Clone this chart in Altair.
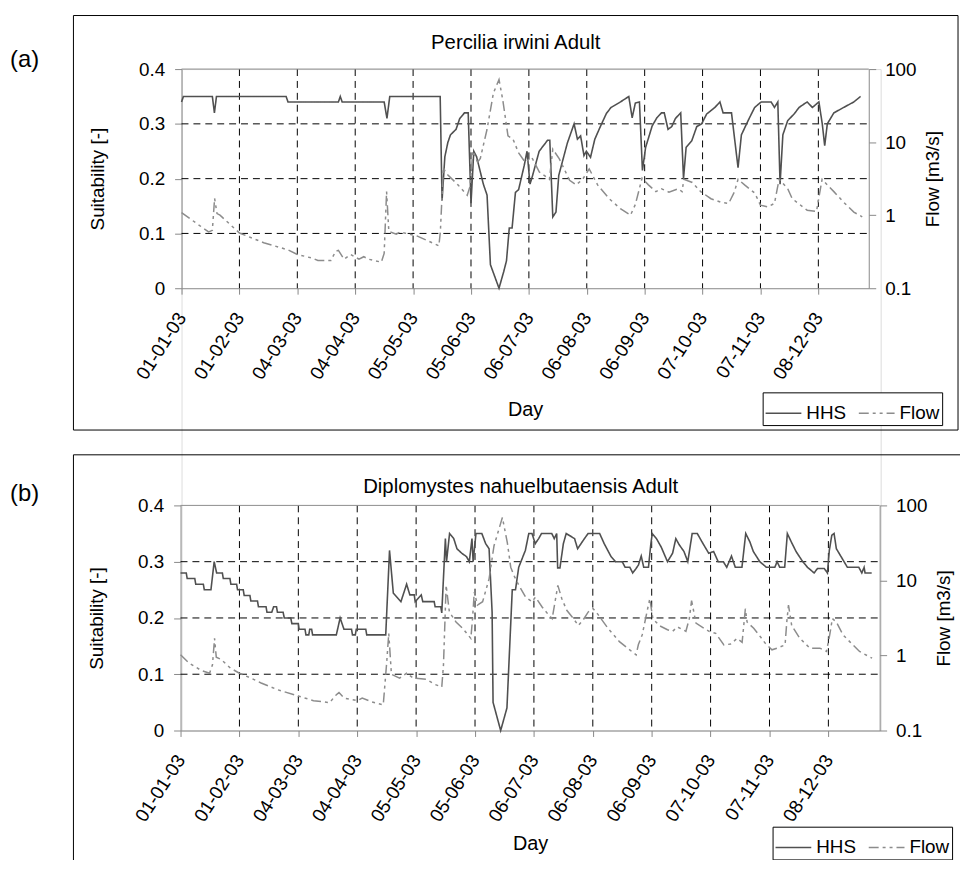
import altair as alt
import pandas as pd

FONT = "Liberation Sans"

TICK_DAYS = [0, 31, 62, 93, 124, 155, 186, 217, 248, 279, 310, 341]
TICK_LABELS = ["01-01-03", "01-02-03", "04-03-03", "04-04-03", "05-05-03", "05-06-03",
               "06-07-03", "06-08-03", "06-09-03", "07-10-03", "07-11-03", "08-12-03"]
SUIT_TICKS = [0, 0.1, 0.2, 0.3, 0.4]
FLOW_TICKS = [0.1, 1, 10, 100]
SERIES = ["HHS", "Flow"]

A_TITLE = "Percilia irwini Adult"
B_TITLE = "Diplomystes nahuelbutaensis Adult"

# ---- panel (a): HHS ----
A_HHS_DAY = [0, 1, 16.5, 17.6, 18.7, 56, 57, 84, 85, 86, 108.5, 110, 111.5, 138.5, 139.5, 141, 142.6, 144,
             147, 149, 151.5, 153.5, 155, 156.5, 158, 161.6, 163.6, 165.4, 170, 172.5, 174, 175.5, 177,
             178.8, 180.5, 183.5, 185, 186.6, 188, 191.5, 196, 197.2, 198.8, 200.5, 202, 206.6, 210.2,
             212, 213.7, 215.5, 216.8, 219, 221.3, 224, 227.5, 230, 235, 239.5, 241.3, 243, 245.2, 246.8,
             248.5, 252, 254.5, 257, 258.5, 260.5, 262.5, 264.5, 267.3, 268.8, 270.2, 273.2, 275.9, 278.5,
             281.2, 285.6, 288.3, 290, 294.5, 298, 299.8, 303.4, 306.9, 310.4, 315.7, 317.5, 319.3, 320.5,
             322, 324.6, 328, 330.7, 335, 337.8, 341.3, 343.1, 344.4, 345.8, 349.3, 354.6, 360, 363.6]
A_HHS_VAL = [0.34, 0.35, 0.35, 0.32, 0.35, 0.35, 0.34, 0.34, 0.35, 0.34, 0.34, 0.31, 0.35, 0.35, 0.16, 0.24,
             0.266, 0.28, 0.29, 0.31, 0.32, 0.32, 0.155, 0.25, 0.24, 0.19, 0.17, 0.043, 0.0, 0.03, 0.05,
             0.11, 0.11, 0.175, 0.18, 0.224, 0.25, 0.19, 0.206, 0.25, 0.27, 0.27, 0.13, 0.139, 0.206,
             0.265, 0.30, 0.272, 0.278, 0.242, 0.25, 0.239, 0.272, 0.293, 0.319, 0.33, 0.34, 0.35, 0.311,
             0.338, 0.34, 0.215, 0.257, 0.296, 0.311, 0.32, 0.32, 0.29, 0.295, 0.31, 0.32, 0.20, 0.257,
             0.269, 0.295, 0.30, 0.318, 0.33, 0.34, 0.32, 0.32, 0.22, 0.28, 0.306, 0.33, 0.34, 0.34, 0.33,
             0.34, 0.19, 0.28, 0.306, 0.318, 0.33, 0.34, 0.33, 0.34, 0.30, 0.26, 0.30, 0.32, 0.33, 0.34, 0.35]

# ---- panel (a): Flow ----
A_FLOW_DAY = [0, 14.5, 16.5, 17.7, 19, 20.6, 31, 44, 57, 62, 70, 73, 80, 82.5, 84, 87, 90.6, 95, 97.6, 100,
              107, 108.5, 109.8, 111, 115, 117, 126, 136, 137.8, 138.6, 140.2, 141.5, 148, 153, 154.5, 156,
              158.5, 160, 163.6, 167, 170, 172, 174.8, 177.5, 180.4, 184, 187.5, 191.6, 197, 198.8, 202.3,
              207.8, 211.3, 214.8, 218.3, 222.8, 229, 235, 240.4, 243, 246.6, 250, 254, 257, 261, 266, 268,
              269, 273.5, 278, 283.5, 289, 293, 296, 298, 301.5, 307, 310, 314, 317.5, 320, 324.6, 327, 335,
              340, 343, 345.8, 349.3, 354.6, 360, 364.5]
A_FLOW_VAL = [1.08, 0.59, 0.62, 1.7, 1.05, 1.0, 0.57, 0.42, 0.335, 0.29, 0.258, 0.24, 0.24, 0.32, 0.33, 0.25,
              0.29, 0.25, 0.27, 0.25, 0.227, 0.3, 2.1, 0.6, 0.55, 0.59, 0.52, 0.4, 0.38, 0.6, 4.5, 3.8, 2.6,
              1.87, 2.5, 7.6, 5.3, 6.0, 15, 47, 72, 38, 12.2, 11, 7.2, 5.3, 6.2, 3.9, 3.1, 8.0, 5.9, 3.0,
              2.6, 3.1, 4.3, 2.6, 1.68, 1.23, 1.0, 1.4, 3.2, 2.6, 2.1, 2.3, 2.07, 2.3, 2.1, 3.1, 2.8, 2.1,
              1.68, 1.5, 1.45, 2.07, 3.1, 2.6, 2.0, 1.37, 1.3, 1.45, 3.1, 2.3, 1.68, 1.17, 1.12, 3.1, 2.6,
              2.1, 1.5, 1.1, 0.95]

# ---- panel (b): HHS ----
B_HHS_DAY = [0, 3, 3.5, 7.5, 8, 12, 12.5, 16, 17.7, 19, 22, 22.5, 26, 26.5, 29.5, 30, 33, 33.5, 36.5, 37,
             40.5, 41, 45, 45.5, 48, 49, 50.5, 51, 54, 54.6, 58, 58.6, 62, 62.4, 65.5, 66, 67.5, 68, 69,
             69.5, 82, 84, 86, 90, 90.5, 92, 92.5, 97.5, 98, 108, 110, 112, 116, 119, 120.7, 123, 123.5,
             126.7, 127.5, 133.5, 134, 137, 137.5, 139.4, 140, 141.6, 143.8, 145.5, 148, 150.5, 152, 153.4,
             154, 155.5, 158.6, 160.6, 162.4, 164, 164.5, 168.5, 171.8, 174.6, 176.3, 178, 181.5, 183.3,
             185, 186.7, 188.5, 190, 195.4, 196.7, 198, 198.5, 199.7, 201.5, 203, 207.4, 209, 210.8, 212.6,
             214.5, 220.6, 223, 226.6, 229, 232.5, 234, 236.5, 238, 239.8, 241, 242.5, 243.8, 246.3, 247.5,
             248.3, 250.5, 253, 256.3, 259, 260.7, 262.5, 265, 267, 269.3, 272, 274.5, 278, 280.6, 283,
             285.7, 287.5, 290, 292, 295.5, 297.5, 299.7, 301.5, 304.9, 308.4, 312.8, 314, 315.4, 318,
             319.4, 321.5, 324, 327.5, 330, 333.5, 335.3, 338.8, 340.5, 341.5, 342.8, 344, 345.2, 347.5,
             351, 357, 358.6, 359.8, 360.3, 363.8]
B_HHS_VAL = [0.28, 0.28, 0.27, 0.27, 0.26, 0.26, 0.25, 0.25, 0.30, 0.28, 0.28, 0.27, 0.27, 0.26, 0.26, 0.25,
             0.25, 0.24, 0.24, 0.23, 0.23, 0.22, 0.22, 0.21, 0.21, 0.22, 0.22, 0.21, 0.21, 0.20, 0.20, 0.19,
             0.19, 0.18, 0.18, 0.17, 0.17, 0.18, 0.18, 0.17, 0.17, 0.20, 0.18, 0.18, 0.17, 0.17, 0.18, 0.18,
             0.17, 0.17, 0.32, 0.244, 0.229, 0.26, 0.241, 0.241, 0.229, 0.241, 0.229, 0.229, 0.22, 0.22,
             0.209, 0.341, 0.30, 0.35, 0.341, 0.323, 0.315, 0.309, 0.30, 0.341, 0.30, 0.35, 0.35, 0.332,
             0.323, 0.21, 0.05, 0.0, 0.04, 0.25, 0.25, 0.29, 0.32, 0.35, 0.35, 0.332, 0.341, 0.35, 0.35,
             0.341, 0.35, 0.289, 0.289, 0.332, 0.35, 0.341, 0.323, 0.332, 0.341, 0.35, 0.35, 0.332, 0.309,
             0.30, 0.30, 0.29, 0.29, 0.28, 0.288, 0.294, 0.31, 0.29, 0.29, 0.33, 0.35, 0.341, 0.326, 0.30,
             0.315, 0.341, 0.33, 0.318, 0.30, 0.35, 0.35, 0.335, 0.315, 0.318, 0.30, 0.30, 0.29, 0.31, 0.29,
             0.29, 0.35, 0.335, 0.318, 0.30, 0.29, 0.29, 0.30, 0.29, 0.29, 0.35, 0.335, 0.318, 0.30, 0.29,
             0.28, 0.288, 0.288, 0.28, 0.32, 0.347, 0.35, 0.323, 0.31, 0.29, 0.29, 0.28, 0.29, 0.28, 0.28]

# ---- panel (b): Flow ----
B_FLOW_DAY = [0, 4.5, 11, 15.3, 16.8, 17.9, 18.8, 21.5, 26.2, 31, 37, 42.4, 51, 61.5, 70, 78.4, 82, 83.4,
              86.2, 93, 95.6, 100.8, 106.7, 108.5, 109.6, 111, 115.3, 119, 122.5, 129.4, 134, 137.5, 138.4,
              139.8, 141.5, 145, 148.5, 152.8, 153.7, 154.6, 156.3, 159, 162.4, 165, 169.4, 172, 173.8,
              175.5, 178.1, 181.6, 185, 186.8, 190.4, 193.8, 195.6, 198.6, 200.7, 203.3, 206.8, 209.4, 212,
              214.6, 217.2, 219.8, 225, 231, 235.3, 239.8, 241, 243, 245.5, 247, 248.6, 252, 256.3, 259,
              261.6, 266, 267.8, 269, 271.3, 275.6, 278.2, 281.7, 286, 289.5, 293, 295.6, 297.3, 298.2,
              301.7, 305.2, 307.8, 311.3, 313.9, 318.2, 319.1, 320, 321.7, 326, 331.3, 336.5, 340, 341.7,
              343.1, 345.2, 348.7, 352.2, 357.4, 364]
B_FLOW_VAL = [1.02, 0.79, 0.63, 0.58, 0.75, 1.69, 0.95, 0.88, 0.68, 0.58, 0.5, 0.43, 0.35, 0.29, 0.25, 0.235,
              0.30, 0.32, 0.27, 0.25, 0.27, 0.24, 0.22, 0.8, 1.97, 0.56, 0.50, 0.58, 0.50, 0.48, 0.41, 0.38,
              0.75, 8.6, 3.8, 2.8, 2.3, 1.69, 3.1, 7.0, 4.7, 5.2, 10.5, 29, 69, 32, 15, 11.6, 8.6, 6.0, 5.2,
              6.0, 4.4, 3.45, 3.1, 8.6, 5.7, 4.0, 3.1, 2.5, 3.0, 3.8, 4.2, 3.5, 2.3, 1.53, 1.25, 1.02, 1.4,
              1.88, 3.8, 5.7, 3.1, 2.5, 2.2, 2.1, 2.4, 2.1, 3.1, 5.4, 2.7, 2.3, 2.1, 1.97, 1.38, 1.42, 1.69,
              1.5, 4.2, 2.8, 2.3, 1.78, 1.45, 1.19, 1.25, 1.38, 2.8, 4.7, 2.5, 1.69, 1.25, 1.25, 1.13, 1.88,
              3.1, 2.8, 1.88, 1.53, 1.13, 0.92]

HHS_COLOR = "#505050"
FLOW_COLOR = "#8c8c8c"
GRID_DASH = [7, 5]
FLOW_DASH = [10, 4, 3, 4, 3, 4]

# overall drawing area (one view holding both panels, each with its own scales)
W, H = 705, 667


def panel(tag, title, title_xy, hhs_day, hhs_val, flow_day, flow_val,
          x_rng, y_rng, frame, tag_xy, legend_xy, day_pad):
    x0, x1 = x_rng
    yt, yb = y_rng
    hdf = pd.DataFrame({"day": hhs_day, "value": hhs_val, "series": "HHS"})
    fdf = pd.DataFrame({"day": flow_day, "value": flow_val, "series": "Flow"})
    one = pd.DataFrame({"k": [0]})

    xs = alt.Scale(domain=[0, 368], range=[x0, x1], nice=False, zero=False)
    ys = alt.Scale(domain=[0, 0.4], range=[yb, yt], nice=False, zero=False)
    fs = alt.Scale(type="log", domain=[0.1, 100], range=[yb, yt], nice=False)

    label_expr = "[" + ",".join("'%s'" % s for s in TICK_LABELS) + "][indexof([" + \
        ",".join(str(d) for d in TICK_DAYS) + "], datum.value)]"
    xaxis = alt.Axis(values=TICK_DAYS, labelExpr=label_expr, labelAngle=303, labelAlign="right",
                     labelBaseline="middle", labelFontSize=19, labelPadding=20, tickSize=6,
                     grid=False, orient="bottom", offset=yb - H,
                     title="Day", titleFontSize=20, titleFontWeight="normal", titlePadding=day_pad,
                     labelOverlap=False)
    yaxis_l = alt.Axis(values=SUIT_TICKS, format=".1~f", orient="left", offset=-x0, labelFontSize=19,
                       labelPadding=10, tickSize=7, grid=False,
                       title="Suitability [-]", titleFontSize=19, titleFontWeight="normal",
                       titlePadding=31)
    yaxis_r = alt.Axis(values=FLOW_TICKS, format="~g", orient="right", offset=x1 - W, labelFontSize=19,
                       labelPadding=9, tickSize=7, grid=False, title="Flow [m3/s]",
                       titleFontSize=19, titleFontWeight="normal", titleAngle=270,
                       titleBaseline="top", titlePadding=8)

    leg = alt.Legend(orient="none", legendX=legend_xy[0], legendY=legend_xy[1], direction="horizontal",
                     title=None, symbolType="stroke", symbolSize=1300, symbolStrokeWidth=1.5,
                     labelFontSize=19, labelFont=FONT, labelColor="black", strokeColor="black",
                     fillColor="white", padding=2, columnPadding=8, labelOffset=4)
    color = alt.Color("series:N", scale=alt.Scale(domain=SERIES, range=[HHS_COLOR, FLOW_COLOR]),
                      legend=leg)
    dash = alt.StrokeDash("series:N", scale=alt.Scale(domain=SERIES, range=[[1, 0], FLOW_DASH]),
                          legend=leg)

    vgrid = alt.Chart(pd.DataFrame({"day": TICK_DAYS[1:]})).mark_rule(
        color="black", strokeWidth=1, strokeDash=GRID_DASH).encode(
        x=alt.X("day:Q", scale=xs, axis=xaxis), y=alt.value(yt), y2=alt.value(yb))
    hgrid = alt.Chart(pd.DataFrame({"v": SUIT_TICKS[1:-1]})).mark_rule(
        color="black", strokeWidth=1, strokeDash=GRID_DASH).encode(
        y=alt.Y("v:Q", scale=ys, axis=None), x=alt.value(x0), x2=alt.value(x1))
    topline = alt.Chart(pd.DataFrame({"v": SUIT_TICKS[-1:]})).mark_rule(
        color="#8c8c8c", strokeWidth=1).encode(
        y=alt.Y("v:Q", scale=ys, axis=None), x=alt.value(x0), x2=alt.value(x1))

    hhs = alt.Chart(hdf).mark_line(strokeWidth=1.6).encode(
        x=alt.X("day:Q", scale=xs, axis=xaxis),
        y=alt.Y("value:Q", scale=ys, axis=yaxis_l),
        color=color, strokeDash=dash)
    flow = alt.Chart(fdf).mark_line(strokeWidth=1.5).encode(
        x=alt.X("day:Q", scale=xs, axis=xaxis),
        y=alt.Y("value:Q", scale=fs, axis=yaxis_r),
        color=color, strokeDash=dash)

    fx1, fx2, fy1, fy2 = frame
    box = alt.Chart(one).mark_rect(fill="transparent", stroke="black", strokeWidth=1).encode(
        x=alt.value(fx1), x2=alt.value(fx2), y=alt.value(fy1), y2=alt.value(fy2))
    tag_mark = alt.Chart(one).mark_text(text=tag, fontSize=24, font=FONT, align="left",
                                        baseline="middle", color="black").encode(
        x=alt.value(tag_xy[0]), y=alt.value(tag_xy[1]))
    title_mark = alt.Chart(one).mark_text(text=title, fontSize=20.5, font=FONT, align="center",
                                          baseline="middle", color="black").encode(
        x=alt.value(title_xy[0]), y=alt.value(title_xy[1]))

    return alt.layer(box, tag_mark, title_mark, vgrid, hgrid, topline, hhs, flow).resolve_scale(
        y="independent")


# coordinates below are relative to the top-left of panel (a)'s plot area
pa = panel("(a)", A_TITLE, (337, -26), A_HHS_DAY, A_HHS_VAL, A_FLOW_DAY, A_FLOW_VAL,
           (0, 693), (0, 221), (-109, 783, -54, 364), (-173, -9), (586, 326), 17)
pb = panel("(b)", B_TITLE, (342, 421), B_HHS_DAY, B_HHS_VAL, B_FLOW_DAY, B_FLOW_VAL,
           (-1, 704), (440, 667), (-109, 800, 389, 900), (-173, 429), (596, 764), 9)

chart = alt.layer(pa, pb).resolve_scale(
    x="independent", y="independent", color="independent", strokeDash="independent").resolve_legend(
    color="independent", strokeDash="independent").properties(
    width=W, height=H,
    autosize=alt.AutoSizeParams(type="none"),
    padding={"left": 175, "top": 58, "right": 80, "bottom": 127}
).configure_view(strokeWidth=0).configure_axis(
    labelFont=FONT, titleFont=FONT, labelColor="black", titleColor="black",
    domainColor="black", tickColor="black", domainWidth=1, tickWidth=1
).configure(font=FONT, background="white")

chart.save("out.html", embed_options={"renderer": "svg", "actions": False})
